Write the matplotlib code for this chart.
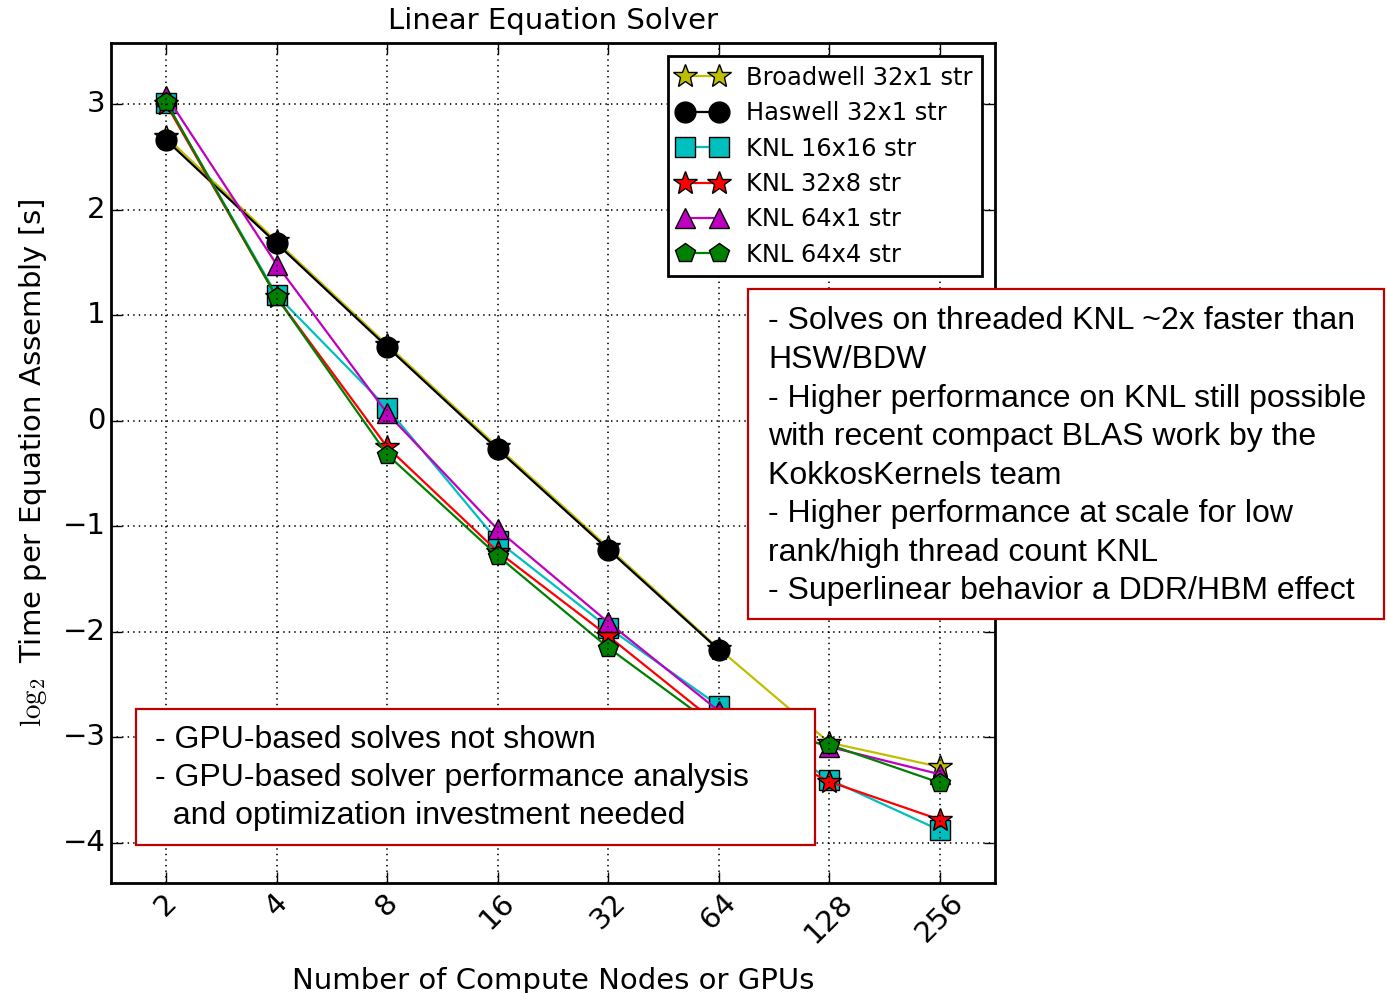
import numpy as np
import matplotlib
matplotlib.use('Agg')
import matplotlib.pyplot as plt
from matplotlib.patches import Rectangle

plt.style.use('classic')

# number of nodes and log2 time per solve
nodes = [2, 4, 8, 16, 32, 64, 128, 256]
broadwell = [2.69, 1.70, 0.72, -0.25, -1.20, -2.16, -3.05, -3.28]
haswell = [2.66, 1.68, 0.70, -0.27, -1.22, -2.17]
knl_16x16 = [3.01, 1.19, 0.12, -1.14, -1.96, -2.70, -3.40, -3.88]
knl_32x8 = [3.00, 1.17, -0.25, -1.24, -2.04, -2.88, -3.42, -3.78]
knl_64x1 = [3.08, 1.48, 0.07, -1.03, -1.91, -2.75, -3.09, -3.35]
knl_64x4 = [3.02, 1.17, -0.32, -1.28, -2.15, -2.92, -3.07, -3.43]

labels = ['Broadwell 32x1 str', 'Haswell 32x1 str', 'KNL 16x16 str',
          'KNL 32x8 str', 'KNL 64x1 str', 'KNL 64x4 str']
colors = ['y', 'k', 'c', 'r', 'm', 'g']
markers = ['*', 'o', 's', '*', '^', 'p']
series = [broadwell, haswell, knl_16x16, knl_32x8, knl_64x1, knl_64x4]

box_red = '#c00000'
note_upper = ('- Solves on threaded KNL ~2x faster than\nHSW/BDW\n'
              '- Higher performance on KNL still possible\n'
              'with recent compact BLAS work by the\nKokkosKernels team\n'
              '- Higher performance at scale for low\n'
              'rank/high thread count KNL\n'
              '- Superlinear behavior a DDR/HBM effect')
note_lower = ('- GPU-based solves not shown\n'
              '- GPU-based solver performance analysis\n'
              '  and optimization investment needed')

fig = plt.figure(figsize=(13.87, 9.93), dpi=100, facecolor='white')
ax = fig.add_axes([0.080, 0.1108, 0.6374, 0.8459])
ax.set_facecolor('white')

xs = np.log2(nodes)
for y, lab, c, m in zip(series, labels, colors, markers):
    ms = 18 if m == '*' else 15
    ax.plot(xs[:len(y)], y, color=c, marker=m, markersize=ms, linewidth=1.6,
            markeredgecolor='k', markeredgewidth=1, label=lab)

ax.set_xlim(0.5, 8.5)
ax.set_ylim(-4.38, 3.58)
ax.set_xticks(xs)
ax.set_xticklabels([str(n) for n in nodes], rotation=45, fontsize=21)
ax.set_yticks([-4, -3, -2, -1, 0, 1, 2, 3])
ax.tick_params(axis='y', labelsize=21)
ax.tick_params(length=8, width=1)
ax.grid(True, linestyle=':', color='k', linewidth=1.2)
for s in ax.spines.values():
    s.set_linewidth(2)

ax.set_title('Linear Equation Solver', fontsize=21, pad=10)
ax.set_xlabel('Number of Compute Nodes or GPUs', fontsize=21, labelpad=14)
ax.set_ylabel(r'$\log_2$ Time per Equation Assembly [s]', fontsize=21, labelpad=10)

leg = ax.legend(loc='upper right', fontsize=17.4, numpoints=2, fancybox=False,
                borderaxespad=0.55, handlelength=2.0, labelspacing=0.47)
leg.get_frame().set_linewidth(2)
leg.get_frame().set_edgecolor('k')

# annotation boxes
fig.add_artist(Rectangle((0.5393, 0.3766), 0.4585, 0.3323, transform=fig.transFigure,
                         facecolor='white', edgecolor=box_red, linewidth=1.6, zorder=5))
fig.text(0.5537, 0.5405, note_upper, transform=fig.transFigure, ha='left', va='center',
         fontsize=23, family='Liberation Sans', linespacing=1.37, zorder=6)

fig.add_artist(Rectangle((0.0981, 0.149), 0.4895, 0.137, transform=fig.transFigure,
                         facecolor='white', edgecolor=box_red, linewidth=1.6, zorder=5))
fig.text(0.1118, 0.2165, note_lower, transform=fig.transFigure, ha='left', va='center',
         fontsize=23, family='Liberation Sans', linespacing=1.36, zorder=6)

fig.savefig('out.png', dpi=100, facecolor='white')
